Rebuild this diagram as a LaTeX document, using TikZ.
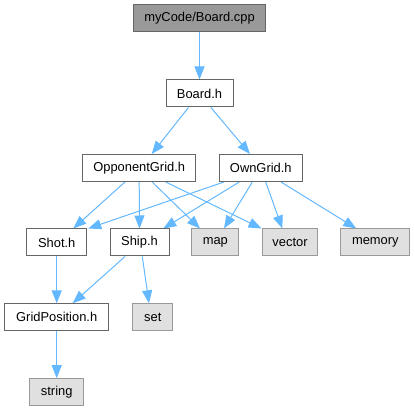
\documentclass[tikz,border=0pt]{standalone}
\usepackage{fontspec}
\setmainfont{Liberation Sans}
\usetikzlibrary{arrows.meta,backgrounds}
\definecolor{edgeblue}{HTML}{63B8FF}
\definecolor{darkborder}{HTML}{666666}
\definecolor{lightborder}{HTML}{999999}
\definecolor{lightfill}{HTML}{E0E0E0}
\definecolor{topfill}{HTML}{999999}
\begin{document}
\begin{tikzpicture}[x=1pt,y=-1pt,
  box/.style={draw=darkborder,fill=white,line width=1pt,inner sep=0pt,minimum height=27pt,
    font=\fontsize{12.9}{14}\selectfont,text=black},
  sysbox/.style={box,draw=lightborder,fill=lightfill},
  topbox/.style={box,fill=topfill},
  edge/.style={draw=edgeblue,line width=1pt,-{Triangle[length=13pt,width=10pt]}}]
\useasboundingbox (0,0) rectangle (415,411);
\node[topbox,minimum width=132pt] (cpp) at (199.5,18.5) {myCode/Board.cpp};
\node[box,minimum width=67pt] (board) at (199.5,93.5) {Board.h};
\node[box,minimum width=113pt] (opp) at (139.2,168) {OpponentGrid.h};
\node[box,minimum width=83pt] (own) at (260.8,168) {OwnGrid.h};
\node[box,minimum width=60pt] (shot) at (56.7,242.5) {Shot.h};
\node[box,minimum width=59pt] (ship) at (139.5,242.5) {Ship.h};
\node[sysbox,minimum width=47pt] (map) at (215.3,242.5) {map};
\node[sysbox,minimum width=55pt] (vector) at (290,242.5) {vector};
\node[sysbox,minimum width=69pt] (memory) at (375.3,242.5) {memory};
\node[box,minimum width=104pt] (gp) at (56.7,317.3) {GridPosition.h};
\node[sysbox,minimum width=40pt] (set) at (152.8,317.3) {set};
\node[sysbox,minimum width=54pt] (string) at (56.7,392.2) {string};
\begin{scope}[on background layer]
\draw[edge] (cpp.south) -- (board.north);
\draw[edge] ([xshift=-11pt]board.south) -- ([xshift=12.5pt]opp.north);
\draw[edge] ([xshift=11.4pt]board.south) -- ([xshift=-10.8pt]own.north);
\draw[edge] ([xshift=-14.2pt]opp.south) -- ([xshift=16.6pt]shot.north);
\draw[edge] (opp.south) -- (ship.north);
\draw[edge] ([xshift=13pt]opp.south) -- ([xshift=-15.3pt]map.north);
\draw[edge] ([xshift=26.5pt]opp.south) -- ([xshift=-0.5pt]vector.north west);
\draw[edge] ([xshift=-36.8pt]own.south) -- ([xshift=1pt]shot.north east);
\draw[edge] ([xshift=-21.5pt]own.south) -- ([xshift=23.8pt]ship.north);
\draw[edge] ([xshift=-8.5pt]own.south) -- ([xshift=8.7pt]map.north);
\draw[edge] ([xshift=4.9pt]own.south) -- ([xshift=-7.7pt]vector.north);
\draw[edge] ([xshift=20.2pt]own.south) -- ([xshift=-19pt]memory.north);
\draw[edge] (shot.south) -- (gp.north);
\draw[edge] ([xshift=-14.5pt]ship.south) -- ([xshift=16pt]gp.north);
\draw[edge] ([xshift=2.8pt]ship.south) -- ([xshift=-3.8pt]set.north);
\draw[edge] (gp.south) -- (string.north);
\end{scope}
\end{tikzpicture}
\end{document}
